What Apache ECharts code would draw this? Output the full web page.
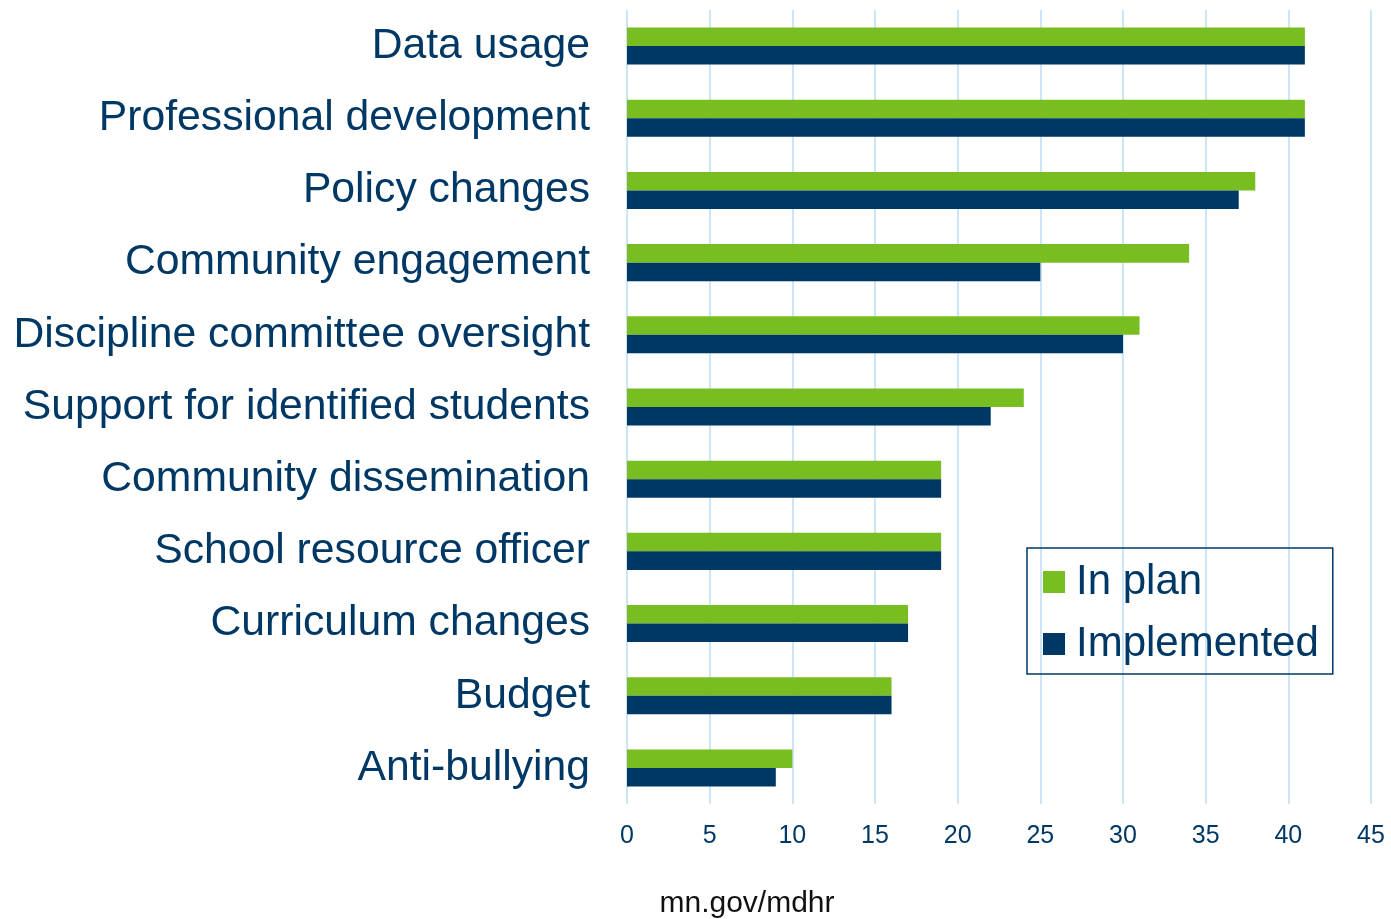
<!DOCTYPE html>
<html>
<head>
<meta charset="utf-8">
<script src="https://cdn.jsdelivr.net/npm/echarts@6/dist/echarts.min.js"></script>
<style>
html,body{margin:0;padding:0;background:#fff;}
#chart{width:1391px;height:919px;}
</style>
</head>
<body>
<div id="chart"></div>
<script>
const categories = ["Data usage","Professional development","Policy changes","Community engagement","Discipline committee oversight","Support for identified students","Community dissemination","School resource officer","Curriculum changes","Budget","Anti-bullying"];
const inPlan = [41,41,38,34,31,24,19,19,17,16,10];
const implemented = [41,41,37,25,30,22,19,19,17,16,9];
const seriesNames = ["In plan","Implemented"];
const sourceText = "mn.gov/mdhr";

const navy = '#003865';
const green = '#78be21';
const chart = echarts.init(document.getElementById('chart'), null, {renderer:'canvas'});
chart.setOption({
  backgroundColor:'#fff',
  animation:false,
  textStyle:{fontFamily:'Liberation Sans, Arial, sans-serif'},
  grid:{left:627,right:20,top:10,bottom:115,containLabel:false},
  xAxis:{
    type:'value',min:0,max:45,interval:5,
    axisLine:{show:false},axisTick:{show:false},
    axisLabel:{color:navy,fontSize:25,margin:20,fontFamily:'Liberation Sans, Arial, sans-serif'},
    splitLine:{show:true,lineStyle:{color:'#cde5f9',width:2}}
  },
  yAxis:{
    type:'category',data:categories,inverse:true,
    axisLine:{show:false},axisTick:{show:false},
    axisLabel:{color:navy,fontSize:42.7,margin:37,padding:[4,0,0,0],fontFamily:'Liberation Sans, Arial, sans-serif'}
  },
  legend:{
    orient:'vertical',left:1027,top:548,
    data:seriesNames,
    icon:'rect',itemWidth:22,itemHeight:22,itemGap:20,
    padding:[13,14,9,16],
    borderColor:navy,borderWidth:1.5,
    textStyle:{color:navy,fontSize:42,lineHeight:42,padding:[0,0,0,6],fontFamily:'Liberation Sans, Arial, sans-serif'}
  },
  title:{
    text:sourceText,left:742,top:884,textAlign:'center',
    textStyle:{color:'#111',fontSize:30,fontWeight:'normal',fontFamily:'Liberation Sans, Arial, sans-serif'}
  },
  series:[
    {name:seriesNames[0],type:'bar',data:inPlan,itemStyle:{color:green},barGap:'0%',barCategoryGap:'48.7%'},
    {name:seriesNames[1],type:'bar',data:implemented,itemStyle:{color:navy},barGap:'0%',barCategoryGap:'48.7%'}
  ]
});
</script>
</body>
</html>
